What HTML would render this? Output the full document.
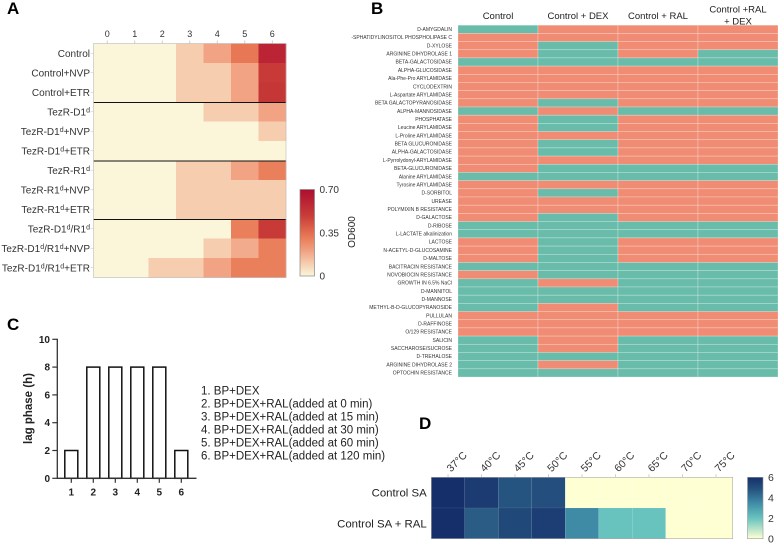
<!DOCTYPE html>
<html lang="en">
<head>
<meta charset="utf-8">
<title>Four-panel figure</title>
<style>
html,body{margin:0;padding:0;background:#fff;}
svg{display:block;font-family:"Liberation Sans",sans-serif;filter:blur(0.3px);}
</style>
</head>
<body>
<svg id="fig" xmlns="http://www.w3.org/2000/svg" width="780" height="545" viewBox="0 0 780 545">
<defs id="defs"></defs>
<rect width="780" height="545" fill="#fff"/>
<g id="panelA"></g>
<g id="panelB"></g>
<g id="panelC"></g>
<g id="panelD"></g>
<text x="7" y="14" font-size="17" font-weight="bold">A</text>
<text x="371" y="14" font-size="17" font-weight="bold">B</text>
<text x="7" y="330" font-size="17" font-weight="bold">C</text>
<text x="419" y="429" font-size="17" font-weight="bold">D</text>
<g id="legendC" font-size="11.5" fill="#222">
<text x="201" y="394.5">1. BP+DEX</text>
<text x="201" y="407.5">2. BP+DEX+RAL(added at 0 min)</text>
<text x="201" y="420.5">3. BP+DEX+RAL(added at 15 min)</text>
<text x="201" y="433.5">4. BP+DEX+RAL(added at 30 min)</text>
<text x="201" y="446.5">5. BP+DEX+RAL(added at 60 min)</text>
<text x="201" y="459.5">6. BP+DEX+RAL(added at 120 min)</text>
</g>
</svg>
<script>
// ---- Panel A data ----
var aColumns = ["0","1","2","3","4","5","6"];
var aRows = ["Control","Control+NVP","Control+ETR","TezR-D1^d","TezR-D1^d+NVP","TezR-D1^d+ETR","TezR-R1^d","TezR-R1^d+NVP","TezR-R1^d+ETR","TezR-D1^d/R1^d","TezR-D1^d/R1^d+NVP","TezR-D1^d/R1^d+ETR"];
var aValues = [
  [0,0,0,0.1,0.2,0.32,0.6],
  [0,0,0,0.1,0.1,0.2,0.5],
  [0,0,0,0.1,0.1,0.2,0.52],
  [0,0,0,0,0.1,0.1,0.2],
  [0,0,0,0,0,0,0.1],
  [0,0,0,0,0,0,0],
  [0,0,0,0.1,0.1,0.2,0.3],
  [0,0,0,0.1,0.1,0.1,0.1],
  [0,0,0,0.1,0.1,0.1,0.1],
  [0,0,0,0,0,0.3,0.5],
  [0,0,0,0,0.1,0.18,0.3],
  [0,0,0.1,0.1,0.2,0.3,0.3]
];
var aScaleTicks = ["0","0.35","0.70"];

// ---- Panel B data ----
var bColumns = ["Control","Control + DEX","Control + RAL","Control +RAL|+ DEX"];
var bRows = ["D-AMYGDALIN","-SPHATIDYLINOSITOL PHOSPHOLIPASE C","D-XYLOSE","ARGININE DIHYDROLASE 1","BETA-GALACTOSIDASE","ALPHA-GLUCOSIDASE","Ala-Phe-Pro ARYLAMIDASE","CYCLODEXTRIN","L-Aspartate ARYLAMIDASE","BETA GALACTOPYRANOSIDASE","ALPHA-MANNOSIDASE","PHOSPHATASE","Leucine ARYLAMIDASE","L-Proline ARYLAMIDASE","BETA GLUCURONIDASE","ALPHA-GALACTOSIDASE","L-Pyrrolydonyl-ARYLAMIDASE","BETA-GLUCURONIDASE","Alanine ARYLAMIDASE","Tyrosine ARYLAMIDASE","D-SORBITOL","UREASE","POLYMIXIN B RESISTANCE","D-GALACTOSE","D-RIBOSE","L-LACTATE alkalinization","LACTOSE","N-ACETYL-D-GLUCOSAMINE","D-MALTOSE","BACITRACIN RESISTANCE","NOVOBIOCIN RESISTANCE","GROWTH IN 6.5% NaCl","D-MANNITOL","D-MANNOSE","METHYL-B-D-GLUCOPYRANOSIDE","PULLULAN","D-RAFFINOSE","O/129 RESISTANCE","SALICIN","SACCHAROSE/SUCROSE","D-TREHALOSE","ARGININE DIHYDROLASE 2","OPTOCHIN RESISTANCE"];
var bValues = [
  [0,1,1,1],[1,1,1,1],[1,0,1,1],[1,0,1,0],[0,0,0,0],[1,1,1,1],[1,1,1,1],[1,1,1,1],[1,1,1,1],[1,0,1,1],
  [0,1,0,0],[1,0,1,1],[1,0,1,1],[1,1,1,1],[1,0,1,1],[1,0,1,1],[1,1,1,1],[1,0,0,0],[0,0,0,0],[1,1,1,1],
  [1,0,1,1],[1,1,1,1],[1,1,1,1],[1,0,1,1],[0,0,0,0],[0,0,0,0],[1,0,1,1],[1,0,1,1],[1,0,1,1],[0,0,0,0],
  [1,0,0,0],[0,1,0,0],[0,0,0,0],[0,0,0,0],[0,1,0,0],[1,1,1,1],[1,1,1,1],[1,1,1,1],[0,1,0,0],[0,1,0,0],
  [0,0,0,0],[0,1,0,0],[0,0,0,0]
];

// ---- Panel C data ----
var cCategories = ["1","2","3","4","5","6"];
var cValues = [2,8,8,8,8,2];
var cTicks = [0,2,4,6,8,10];

// ---- Panel D data ----
var dColumns = ["37°C","40°C","45°C","50°C","55°C","60°C","65°C","70°C","75°C"];
var dRows = ["Control SA","Control SA + RAL"];
var dValues = [
  [6,5.6,4.8,5,0,0,0,0,0],
  [6,4.6,5.2,5.5,3.5,2,2,0,0]
];
var dScaleTicks = [0,2,4,6];

var SVGNS = "http://www.w3.org/2000/svg";
function make(tag, attrs, parent, text) {
  var el = document.createElementNS(SVGNS, tag);
  for (var k in attrs) el.setAttribute(k, attrs[k]);
  if (text !== undefined) el.textContent = text;
  parent.appendChild(el);
  return el;
}
function hexToRgb(h){return [parseInt(h.substr(1,2),16),parseInt(h.substr(3,2),16),parseInt(h.substr(5,2),16)];}
function ramp(stops, t){
  t = Math.max(0, Math.min(1, t));
  for (var i = 1; i < stops.length; i++) {
    if (t <= stops[i][0]) {
      var a = stops[i-1], b = stops[i], f = (t-a[0])/(b[0]-a[0]);
      var ca = hexToRgb(a[1]), cb = hexToRgb(b[1]);
      return "rgb(" + ca.map(function(v,j){return Math.round(v+(cb[j]-v)*f);}).join(",") + ")";
    }
  }
  return stops[stops.length-1][1];
}
function gradient(id, stops){
  var g = make("linearGradient", {id:id, x1:0, y1:1, x2:0, y2:0}, document.getElementById("defs"));
  stops.forEach(function(s){ make("stop", {offset:s[0], "stop-color":s[1]}, g); });
}

// ---- Panel A ----
(function(){
  var p = document.getElementById("panelA");
  var stops = [[0,"#fbf6da"],[0.14,"#f6ceb0"],[0.29,"#f1a283"],[0.45,"#e97a56"],[0.7,"#c93c38"],[1,"#ac0f30"]];
  var x0 = 93.5, x1 = 286, y0 = 43.5, y1 = 277.5, maxV = 0.7;
  var cw = (x1-x0)/aColumns.length, rh = (y1-y0)/aRows.length;
  function xA(i){return x0+i*cw;}
  function yA(i){return y0+i*rh;}
  aValues.forEach(function(row,r){
    row.forEach(function(v,c){
      var cell = make("rect",{x:xA(c),y:yA(r),width:cw+0.3,height:rh+0.3,fill:ramp(stops,v/maxV)},p);
      
      
    });
  });
  aColumns.forEach(function(t,c){
    var tick = make("line",{x1:xA(c)+cw/2,x2:xA(c)+cw/2,y1:y0-3,y2:y0,stroke:"#bbb","stroke-width":0.7},p);
    
    
    var lab = make("text",{x:xA(c)+cw/2,y:37,"font-size":9,"text-anchor":"middle",fill:"#333"},p,t);
    
    
  });
  aRows.forEach(function(name,r){
    var cy = yA(r)+rh/2;
    var tick = make("line",{x1:x0-3,x2:x0,y1:cy,y2:cy,stroke:"#ccc","stroke-width":0.6},p);
    
    
    var lab = make("text",{x:90,y:cy+3.5,"font-size":10,"text-anchor":"end",fill:"#333"},p);
    
    
    name.split(/(\^d)/).forEach(function(part){
      if (!part) return;
      if (part === "^d") {
        make("tspan",{dy:-3,"font-size":7},lab,"d");
        make("tspan",{dy:3,"font-size":10},lab,"\u200b");
      } else {
        make("tspan",{},lab,part);
      }
    });
  });
  [3,6,9].forEach(function(r){
    var sep = make("line",{x1:x0,x2:x1,y1:yA(r)+0.5,y2:yA(r)+0.5,stroke:"#111","stroke-width":1.1},p);
    
    
  });
  var frame = make("rect",{x:x0,y:y0,width:x1-x0,height:y1-y0,fill:"none",stroke:"#bbb","stroke-width":0.6},p);
  
  
  gradient("gradA",stops);
  var by0 = 189.5, by1 = 276, bx = 300, bw = 14.5;
  var bar = make("rect",{x:bx,y:by0,width:bw,height:by1-by0,fill:"url(#gradA)",stroke:"#888","stroke-width":0.7},p);
  
  
  aScaleTicks.forEach(function(t){
    var y = by1-(parseFloat(t)/maxV)*(by1-by0);
    var lab = make("text",{x:319.5,y:y+3.5,"font-size":10,fill:"#333"},p,t);
    
    
  });
  var title = make("text",{x:0,y:0,"font-size":10,"text-anchor":"middle",fill:"#222",transform:"translate(355,232) rotate(-90)"},p,"OD600");
  
  
})();

// ---- Panel B ----
(function(){
  var p = document.getElementById("panelB");
  var x0 = 458, x1 = 778, y0 = 25.2, y1 = 377;
  var cw = (x1-x0)/bColumns.length, rh = (y1-y0)/bRows.length;
  var colors = ["#69bcaa","#f08c73"];
  bValues.forEach(function(row,r){
    row.forEach(function(v,c){
      var cell = make("rect",{x:x0+c*cw,y:y0+r*rh,width:cw,height:rh,fill:colors[v],stroke:"#fff","stroke-opacity":0.4,"stroke-width":0.6},p);
      
      
    });
  });
  bRows.forEach(function(name,r){
    var lab = make("text",{x:452,y:y0+(r+0.5)*rh+1.7,"font-size":5,"text-anchor":"end",fill:"#333"},p,name);
    
    
  });
  bColumns.forEach(function(name,c){
    var cx = x0+(c+0.5)*cw;
    var lines = name.split("|");
    lines.forEach(function(l,i){
      var y = lines.length > 1 ? 12.5+i*12 : 19;
      var lab = make("text",{x:cx,y:y,"font-size":9.5,"text-anchor":"middle",fill:"#222"},p,l);
      
      
    });
  });
})();

// ---- Panel C ----
(function(){
  var p = document.getElementById("panelC");
  var ax = 57.3, ay0 = 478.3, ay1 = 339.3, maxV = 10, axEnd = 196.5;
  var xFirst = 71.3, step = 22;
  var barW = 13;
  function xC(i){return xFirst+i*step;}
  function yC(v){return ay0-(v/maxV)*(ay0-ay1);}
  cValues.forEach(function(v,i){
    var bar = make("rect",{x:xC(i)-barW/2,y:yC(v),width:barW,height:ay0-yC(v),fill:"#fff",stroke:"#111","stroke-width":1.5},p);
    
    
  });
  var yAxis = make("line",{x1:ax,x2:ax,y1:ay1-0.6,y2:ay0+0.6,stroke:"#333","stroke-width":1.3},p);
  
  
  var xAxis = make("line",{x1:ax,x2:axEnd,y1:ay0,y2:ay0,stroke:"#333","stroke-width":1.3},p);
  
  
  cTicks.forEach(function(t){
    var tick = make("line",{x1:ax-5,x2:ax,y1:yC(t),y2:yC(t),stroke:"#333","stroke-width":1.2},p);
    
    
    var lab = make("text",{x:50,y:yC(t)+3.5,"font-size":10,"font-weight":"bold","text-anchor":"end",fill:"#222"},p,String(t));
    
    
  });
  cCategories.forEach(function(t,i){
    var tick = make("line",{x1:xC(i),x2:xC(i),y1:ay0,y2:ay0+4.5,stroke:"#333","stroke-width":1.2},p);
    
    
    var lab = make("text",{x:xC(i),y:495.5,"font-size":10,"font-weight":"bold","text-anchor":"middle",fill:"#222"},p,t);
    
    
  });
  var title = make("text",{x:0,y:0,"font-size":11.5,"font-weight":"bold","text-anchor":"middle",fill:"#222",transform:"translate(32,408.5) rotate(-90)"},p,"lag phase (h)");
  
  
})();

// ---- Panel D ----
(function(){
  var p = document.getElementById("panelD");
  var stops = [[0,"#ffffd4"],[0.33,"#69c4bf"],[0.58,"#3f8ca6"],[0.8,"#265480"],[1,"#152f6b"]];
  var x0 = 431.3, x1 = 732.7, y0 = 477.3, y1 = 538.7, maxV = 6;
  var cw = (x1-x0)/dColumns.length, rh = (y1-y0)/dRows.length;
  function xD(i){return x0+i*cw;}
  function yD(i){return y0+i*rh;}
  dValues.forEach(function(row,r){
    row.forEach(function(v,c){
      var cell = make("rect",{x:xD(c),y:yD(r),width:cw,height:rh,fill:ramp(stops,v/maxV),stroke:"#fff","stroke-opacity":0.1,"stroke-width":0.5},p);
      
      
    });
  });
  var frame = make("rect",{x:x0,y:y0,width:x1-x0,height:y1-y0,fill:"none",stroke:"#aaa","stroke-width":0.6},p);
  
  
  dColumns.forEach(function(t,c){
    var cx = xD(c)+cw/2;
    var tick = make("line",{x1:cx,x2:cx,y1:y0-3,y2:y0,stroke:"#bbb","stroke-width":0.7},p);
    
    
    var lab = make("text",{x:0,y:0,"font-size":10.5,fill:"#333",transform:"translate("+(cx+3)+",472.5) rotate(-45)"},p,t);
    
    
  });
  dRows.forEach(function(name,r){
    var lab = make("text",{x:426.7,y:yD(r)+rh/2+4,"font-size":11.4,"text-anchor":"end",fill:"#222"},p,name);
    
    
  });
  gradient("gradD",stops);
  var bx = 747.5, bw = 15.5;
  var bar = make("rect",{x:bx,y:y0,width:bw,height:y1-y0,fill:"url(#gradD)",stroke:"#999","stroke-width":0.6},p);
  
  
  dScaleTicks.forEach(function(t){
    var y = y1-(t/maxV)*(y1-y0);
    var lab = make("text",{x:768,y:y+3.6,"font-size":10.5,fill:"#333"},p,String(t));
    
    
  });
})();
</script>
</body>
</html>
